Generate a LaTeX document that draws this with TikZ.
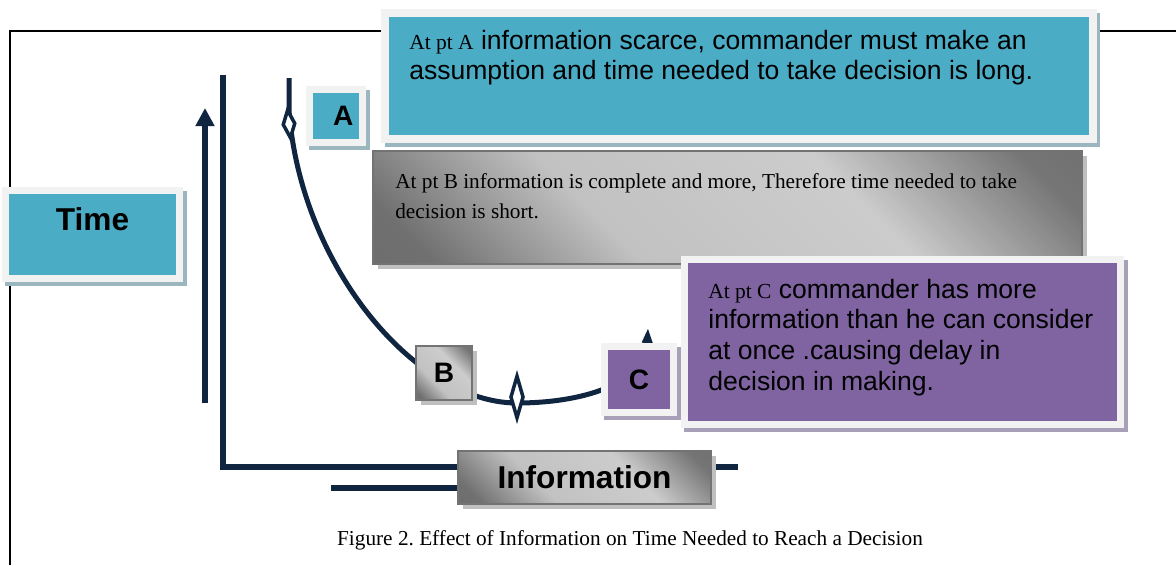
\documentclass[tikz,border=0pt]{standalone}
\usepackage{fontspec}
\setmainfont{Liberation Serif}
\setsansfont{Liberation Sans}
\usepackage{tikz}
\usetikzlibrary{positioning,arrows.meta,shapes.geometric,shadows}
\definecolor{boxteal}{HTML}{4BACC6}
\definecolor{boxpurple}{HTML}{8064A2}
\definecolor{linenavy}{HTML}{10253F}
\definecolor{framegrey}{HTML}{F2F2F2}
\definecolor{tealshade}{HTML}{9CB6BF}
\definecolor{purpleshade}{HTML}{A7A0B8}
\definecolor{greyshade}{HTML}{BFBFBF}
\pgfdeclareverticalshading{softgrey}{100bp}{color(0bp)=(black!60); color(20bp)=(black!56);
  color(38bp)=(black!24); color(62bp)=(black!20); color(80bp)=(black!54); color(100bp)=(black!60)}

\begin{document}
\frenchspacing
\begin{tikzpicture}[x=0.02cm,y=-0.02cm,
    every node/.style={inner sep=0pt},
    axisline/.style={draw=linenavy,line width=0.12cm},
    curveline/.style={draw=linenavy,line width=0.1cm},
    marker/.style={diamond,draw=linenavy,fill=white,line width=0.07cm},
    framed/.style={draw=framegrey,line width=0.15cm},
    tealbox/.style={framed,fill=boxteal,general shadow={shadow xshift=0.07cm,shadow yshift=-0.08cm,fill=tealshade,draw=tealshade,line width=0.15cm}},
    purplebox/.style={framed,fill=boxpurple,general shadow={shadow xshift=0.07cm,shadow yshift=-0.08cm,fill=purpleshade,draw=purpleshade,line width=0.15cm}},
    greybox/.style={draw=black!55,line width=0.04cm,shading=softgrey,shading angle=-45,general shadow={shadow xshift=0.1cm,shadow yshift=-0.1cm,fill=greyshade}},
    boldlabel/.style={font=\sffamily\bfseries\fontsize{18}{20}\selectfont},
    pointlabel/.style={font=\sffamily\bfseries\fontsize{16}{18}\selectfont},
    sanstext/.style={font=\sffamily\fontsize{15.1}{17.6}\selectfont,text width=#1,align=left,anchor=base west},
    seriftext/.style={font=\rmfamily\fontsize{12.1}{17.6}\selectfont,text width=#1,align=left,anchor=base west}]
  \useasboundingbox (0,0) rectangle (1176,565);
  % frame of the figure
  \draw[line width=0.04cm] (10,565) -- (10,31) -- (1176,31);
  % axes
  \coordinate (axistop) at (223,75);
  \coordinate (axiscorner) at (223,467);
  \coordinate (axisend) at (738,467);
  \coordinate (baseleft) at (331,488);
  \coordinate (baseright) at (560,488);
  \coordinate (arrowfoot) at (205,403);
  \coordinate (arrowtip) at (205,108);
  \draw[axisline] (axistop) -- (axiscorner) -- (axisend);
  \draw[axisline] (baseleft) -- (baseright);
  \draw[axisline,-{Triangle[width=0.36cm,length=0.36cm]}] (arrowfoot) -- (arrowtip);
  % curve with its markers
  \coordinate (curvestart) at (289,78);
  \coordinate (curvebend) at (289,110);
  \coordinate (curvelow) at (517,403);
  \coordinate (curveend) at (648,328);
  \draw[curveline,-{Triangle[width=0.2cm,length=0.3cm]}] (curvestart) -- (curvebend)
    .. controls (300,265) and (415,403) .. (curvelow)
    .. controls (580,403) and (645,385) .. (curveend);
  \node[marker,minimum width=0.26cm,minimum height=0.58cm,rotate=6] (markA) at (289,124) {};
  \node[marker,minimum width=0.27cm,minimum height=0.86cm] (markB) at (517,397) {};
  % boxes
  \node[tealbox,minimum width=3.48cm,minimum height=1.76cm] (timebox) at (92.5,234.5) {};
  \node[boldlabel,below=0.41cm of timebox.north] (timetext) {Time};
  \node[tealbox,minimum width=14.16cm,minimum height=2.52cm] (ainfo) at (739,76) {};
  \node[tealbox,pointlabel,minimum size=1.06cm,text width=0.7cm,align=right] (apoint) at (336,116) {A};
  \node[greybox,minimum width=14.18cm,minimum height=2.26cm] (binfo) at (727.5,207.5) {};
  \node[greybox,pointlabel,minimum width=1.12cm,minimum height=1.08cm] (bpoint) at (444,373) {B};
  \node[purplebox,pointlabel,minimum width=1.38cm,minimum height=1.32cm] (cpoint) at (639,379.5) {C};
  \node[purplebox,minimum width=8.72cm,minimum height=3.3cm] (cinfo) at (902.5,342) {};
  \node[greybox,boldlabel,minimum width=5.06cm,minimum height=1.06cm] (infobox) at (584.5,477.5) {Information};
  % texts
  \node[sanstext=14cm] (atext) at (409,49) {\spaceskip0pt\xspaceskip0pt{\rmfamily\fontsize{12.2}{17.6}\selectfont At pt A} information scarce, commander must make an\\assumption and time needed to take decision is long.};
  \node[seriftext=13.8cm] (btext) at (395,188) {\spaceskip0pt\xspaceskip0pt At pt B information is complete and more, Therefore time needed to take\\decision is short.};
  \node[sanstext=8.1cm] (ctext) at (708,298) {\spaceskip0pt\xspaceskip0pt{\rmfamily\fontsize{12.2}{17.6}\selectfont At pt C} commander has more\\information than he can consider\\at once .causing delay in\\decision in making.};
  \node[font=\rmfamily\fontsize{12.1}{14}\selectfont,anchor=base] (caption) at (630,545) {Figure 2. Effect of Information on Time Needed to Reach a Decision};
\end{tikzpicture}
\end{document}
